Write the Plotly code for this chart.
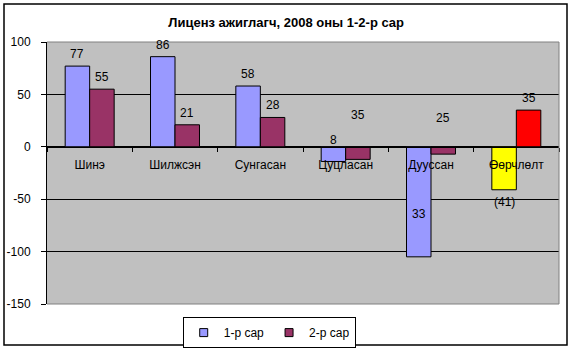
import plotly.graph_objects as go

categories = ["Шинэ", "Шилжсэн", "Сунгасан", "Цуцласан", "Дууссан", "Өөрчлөлт"]
series1_name = "1-р сар"
series2_name = "2-р сар"
series1 = [77, 86, 58, -14, -105, -41]
series2 = [55, 21, 28, -12, -7, 35]
labels1 = ["77", "86", "58", "8", "33", "(41)"]
labels2 = ["55", "21", "28", "35", "25", "35"]
y_ticks = [-150, -100, -50, 0, 50, 100]
y_ticktext = ["-150", "-100", "-50", "0", "50", "100"]

c1 = ["#9999FF"] * 5 + ["#FFFF00"]
c2 = ["#993366"] * 5 + ["#FF0000"]

fig = go.Figure()
fig.add_trace(go.Bar(x=categories, y=series1, name=series1_name, showlegend=False,
                     marker=dict(color=c1, line=dict(color="black", width=1))))
fig.add_trace(go.Bar(x=categories, y=series2, name=series2_name, showlegend=False,
                     marker=dict(color=c2, line=dict(color="black", width=1))))
# legend entries with small square keys
for nm, col in ((series1_name, c1[0]), (series2_name, c2[0])):
    fig.add_trace(go.Scatter(x=[None], y=[None], mode="markers", name=nm,
                             marker=dict(symbol="square", size=8, color=col,
                                         line=dict(color="black", width=1))))

# label anchors: (y value, pixel shift) -- placement only
anch1 = [(series1[0], 12), (series1[1], 12), (series1[2], 12), (0, 7), (-64, 0), (series1[5], -12)]
anch2 = [(series2[0], 12), (series2[1], 12), (series2[2], 12), (0, 32), (0, 29), (series2[5], 12)]

annotations = []
for i, cat in enumerate(categories):
    for lab, (yv, ys), xs in ((labels1[i], anch1[i], -12.25), (labels2[i], anch2[i], 12.25)):
        annotations.append(dict(x=cat, y=yv, xref="x", yref="y", text=lab, showarrow=False,
                                xshift=xs, yshift=ys, yanchor="middle", xanchor="center",
                                font=dict(size=12, color="black")))

shapes = [
    # gray plot-area border (top, right, bottom)
    dict(type="line", xref="paper", yref="paper", x0=0, x1=1, y0=1, y1=1,
         line=dict(color="#808080", width=1), layer="above"),
    dict(type="line", xref="paper", yref="paper", x0=1, x1=1, y0=0, y1=1,
         line=dict(color="#808080", width=1), layer="above"),
    dict(type="line", xref="paper", yref="paper", x0=0, x1=1, y0=0, y1=0,
         line=dict(color="#808080", width=1), layer="above"),
    # outer chart border
    dict(type="rect", xref="paper", yref="paper",
         x0=(4 - 47) / 512, x1=(567 - 47) / 512, y0=(304 - 345) / 262, y1=(304 - 4) / 262,
         line=dict(color="black", width=1.5), layer="above"),
]

fig.update_layout(
    width=577, height=352,
    margin=dict(l=47, r=18, t=42, b=48, autoexpand=False),
    paper_bgcolor="white", plot_bgcolor="#C0C0C0",
    font=dict(family="Liberation Sans, Arial, sans-serif", size=12, color="black"),
    barmode="group", bargap=0.426, bargroupgap=0,
    title=dict(text="<b>Лиценз ажиглагч, 2008 оны 1-2-р сар</b>", x=0.496, xanchor="center",
               y=1 - 22 / 352, yanchor="middle", font=dict(size=13, color="black")),
    legend=dict(orientation="h", x=0.434, xanchor="center", y=-0.05, yanchor="top",
                bordercolor="black", borderwidth=1, bgcolor="white",
                font=dict(size=12), itemwidth=30),
    annotations=annotations,
    shapes=shapes,
)
fig.update_yaxes(range=[-150, 100], tickvals=y_ticks, ticktext=y_ticktext,
                 showgrid=True, gridcolor="black", gridwidth=1,
                 zeroline=False, showline=True, linecolor="black", linewidth=1,
                 ticks="outside", ticklen=5, tickcolor="black", ticklabelstandoff=8,
                 automargin=False, fixedrange=True)
fig.update_xaxes(anchor="free", position=0.6, showline=True, linecolor="black", linewidth=1,
                 ticks="outside", tickson="boundaries", ticklen=4, tickcolor="black",
                 ticklabelstandoff=7,
                 showgrid=False, automargin=False, fixedrange=True)

fig.write_html("out.html")
